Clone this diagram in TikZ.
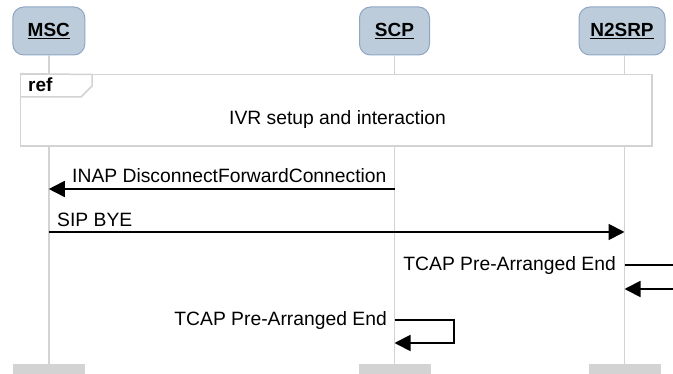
\documentclass[tikz,border=0pt]{standalone}
\usepackage{fontspec}
\setmainfont{Liberation Sans}
\usetikzlibrary{arrows.meta}
\definecolor{headfill}{HTML}{BDCCDA}
\definecolor{headborder}{HTML}{8FA5C3}
\definecolor{linegrey}{HTML}{D3D3D3}
\definecolor{footgrey}{HTML}{D3D3D3}
\begin{document}
\begin{tikzpicture}[x=1pt,y=-1pt,
  head/.style={draw=headborder, fill=headfill, rounded corners=11pt, line width=1pt,
    minimum height=48pt, inner sep=0pt, font=\fontsize{19}{22}\selectfont\bfseries},
  foot/.style={fill=footgrey, draw=none, minimum width=72pt, minimum height=20pt, inner sep=0pt, anchor=north},
  life/.style={draw=linegrey, line width=1.5pt},
  refbox/.style={draw=linegrey, fill=white, line width=1.5pt, inner sep=0pt},
  msg/.style={draw=black, line width=1.8pt, -{Triangle[length=16pt,width=16pt]}},
  plain/.style={draw=black, line width=1.8pt},
  lbl/.style={font=\fontsize{19.3}{22}\selectfont, inner sep=0pt}
]
\useasboundingbox (0,0) rectangle (673,374);
% heads
\node[head, minimum width=72pt] (msc) at (48.8,31) {\underline{MSC}};
\node[head, minimum width=70pt] (scp) at (394.5,31) {\underline{SCP}};
\node[head, minimum width=86pt] (n2) at (622,31) {\underline{N2SRP}};
% feet
\node[foot] (mscf) at (48.8,364) {};
\node[foot] (scpf) at (394.5,364) {};
\node[foot] (n2f) at (624.5,364) {};
% lifelines
\coordinate (msctop) at (48.8,55);
\coordinate (scptop) at (394.5,55);
\coordinate (n2top) at (624.5,55);
\draw[life] (msctop) -- (mscf.north);
\draw[life] (scptop) -- (scpf.north);
\draw[life] (n2top) -- (n2f.north);
% ref frame
\node[refbox, minimum width=631.5pt, minimum height=71.5pt] (ref) at (336.4,110.2) {};
\draw[draw=linegrey, line width=1.5pt] (ref.north west) -- (92,74.5) -- (92,86) -- (81,97) -- (ref.west |- 0,97);
\node[lbl, font=\fontsize{19}{22}\selectfont\bfseries, anchor=base west] (reft) at (28,92) {ref};
\node[lbl] (refl) at (337.5,120) {IVR setup and interaction};
% message coordinates
\coordinate (scp1) at (394.5,189);
\coordinate (msc1) at (48.8,189);
\coordinate (msc2) at (48.8,232);
\coordinate (n22) at (624.5,232);
\coordinate (n23a) at (624.5,265);
\coordinate (n23o) at (690,265);
\coordinate (n23r) at (690,289);
\coordinate (n23b) at (624.5,289);
\coordinate (scp4a) at (394.5,320);
\coordinate (scp4r) at (454,320);
\coordinate (scp4b) at (394.5,343);
% messages
\draw[msg] (scp1) -- (msc1);
\node[lbl, anchor=base west] (l1) at (72,183) {INAP DisconnectForwardConnection};
\draw[msg] (msc2) -- (n22);
\node[lbl, anchor=base west] (l2) at (57,227) {SIP BYE};
\draw[plain] (n23a) -- (n23o);
\draw[msg] (n23r) -- (n23b);
\node[lbl, anchor=base east] (l3) at (616,271) {TCAP Pre-Arranged End};
\draw[msg] (scp4a) -- (scp4r) |- (scp4b);
\node[lbl, anchor=base east] (l4) at (387,326) {TCAP Pre-Arranged End};
\end{tikzpicture}
\end{document}
